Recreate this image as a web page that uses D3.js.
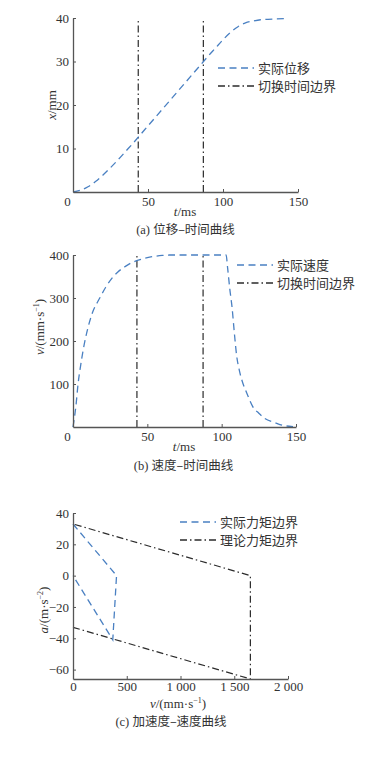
<!DOCTYPE html>
<html><head><meta charset="utf-8">
<script src="https://cdn.jsdelivr.net/npm/d3@7"></script>
<style>
html,body{margin:0;padding:0;background:#fff;}
svg text, svg tspan{font-family:"Liberation Serif","DejaVu Serif","Times New Roman",serif;fill:#333;}
svg .cjk{font-family:"Noto Sans CJK SC","Liberation Serif",serif;}
</style></head>
<body>
<svg id="c" width="380" height="770"></svg>
<script>
// ---------- data ----------
// (a) displacement vs time
const posT = [0,5,10,15,20,25,30,35,40,43.5,50,60,70,80,87,90,95,100,105,110,115,120,125,130,143];
const posX = [0,0.4,1.2,2.4,3.9,5.6,7.4,9.3,11.2,12.6,15.2,19.2,23.2,27.2,30,31.2,33.1,35.0,36.7,38.0,38.9,39.3,39.6,39.7,39.9];
const switchA = [43.5, 86.9];
// (b) velocity vs time
const velT = [0,2,3.4,5,7,10,13,18,22,26,30,35,40,45,50,55,60,65,103,104,105.5,107,108.5,110,112,113.5,117,121,125,129,136,141,148];
const velV = [0,50,100,140,182,230,265,300,325,345,360,373,383,389,394,397,399,400,400,370,320,278,220,168,130,110,78,47,32,20,10,4,1];
const switchB = [43, 87.5];
// (c) acceleration vs velocity
const actV = [0,405,370,0];
const actA = [33,0,-41,0];
const theoV = [0,1650,1650,0];
const theoA = [-33,-66,0,33];
// ticks
const tTicks = [0,50,100,150];
const xTicksA = [10,20,30,40];
const vTicksB = [100,200,300,400];
const vTicksC = [0,500,1000,1500,2000];
const aTicksC = [-60,-40,-20,0,20,40];

const blue = "#4a80c2", dark = "#2b2b2b", axisCol = "#555";
const dashBlue = "7,4.5", dashDot = "7,3,1.5,3";
const SERIF = "'Liberation Serif','DejaVu Serif',serif";

const svg = d3.select("#c");

function axes(g, x, y, xt, yt, xfmt, zeroShift, labY){
  const ax = g.append("g").attr("transform",`translate(0,${y.range()[0]})`)
    .call(d3.axisBottom(x).tickValues(xt).tickSizeInner(-3).tickSizeOuter(0).tickPadding(8).tickFormat(xfmt));
  const ay = g.append("g").attr("transform",`translate(${x.range()[0]},0)`)
    .call(d3.axisLeft(y).tickValues(yt).tickSizeInner(-3).tickSizeOuter(0).tickPadding(4).tickFormat(d=>d<0?"\u2212"+Math.abs(d):d));
  [ax,ay].forEach(a=>{
    a.attr("font-family",SERIF);
    a.select(".domain").attr("stroke",axisCol).attr("stroke-width",1.3);
    a.selectAll(".tick line").attr("stroke",axisCol).attr("stroke-width",1);
    a.selectAll(".tick text").attr("font-size",13).attr("fill","#333").attr("font-family",SERIF);
  });
  ax.selectAll(".tick text").attr("dy","0.71em").attr("y",labY);
  if(zeroShift) ax.selectAll(".tick").filter(d=>d===0).select("text").attr("dx",zeroShift);
  ax.selectAll(".tick").filter(d=>d===x.domain()[0]).select("line").remove();
  ay.selectAll(".tick").filter(d=>d===y.domain()[0]).select("line").remove();
}

function legend(g, x0, y0, items){
  items.forEach((it,i)=>{
    const yy = y0 + i*18;
    g.append("line").attr("x1",x0).attr("x2",x0+36).attr("y1",yy).attr("y2",yy)
      .attr("stroke",it.c).attr("stroke-width",1.3).attr("stroke-dasharray",it.d);
    g.append("text").attr("class","cjk").attr("x",x0+40).attr("y",yy).attr("dy","0.35em")
      .attr("font-size",13).text(it.t);
  });
}

function vline(g, x, y, v){
  g.append("line").attr("x1",x(v)).attr("x2",x(v)).attr("y1",y.range()[0]).attr("y2",y.range()[1])
    .attr("stroke",dark).attr("stroke-width",1.2).attr("stroke-dasharray",dashDot);
}

function unitLabel(g, tr, x0, y0, sym, pre, sup){
  const t = g.append("text").attr("text-anchor","middle").attr("font-size",13);
  if(tr) t.attr("transform",tr); else t.attr("x",x0).attr("y",y0);
  t.append("tspan").attr("font-style","italic").text(sym);
  t.append("tspan").text(pre);
  if(sup){
    t.append("tspan").attr("font-size",8).attr("dy",-5).text(sup);
    t.append("tspan").attr("dy",5).text(")");
  }
}

function caption(g, cx, cy, tag, txt){
  g.append("text").attr("x",cx).attr("y",cy).attr("text-anchor","middle").attr("font-size",12.5)
    .html(tag + ' <tspan class="cjk">' + txt + '</tspan>');
}

// ---------- (a) ----------
{
  const g = svg.append("g");
  const x = d3.scaleLinear().domain([0,150]).range([73,298]);
  const y = d3.scaleLinear().domain([0,40]).range([192,18]);
  switchA.forEach(v=>vline(g,x,y,v));
  g.append("path").datum(posT.map((t,i)=>[t,posX[i]]))
    .attr("d",d3.line().x(d=>x(d[0])).y(d=>y(d[1])).curve(d3.curveMonotoneX))
    .attr("fill","none").attr("stroke",blue).attr("stroke-width",1.3).attr("stroke-dasharray",dashBlue);
  axes(g,x,y,tTicks,xTicksA,d=>d,-6,5);
  legend(g,218,68,[{t:"实际位移",c:blue,d:dashBlue},{t:"切换时间边界",c:dark,d:dashDot}]);
  unitLabel(g,"translate(56,105) rotate(-90)",0,0,"x","/mm",null);
  unitLabel(g,null,185,216,"t","/ms",null);
  caption(g,185.5,234,"(a)","位移–时间曲线");
}

// ---------- (b) ----------
{
  const g = svg.append("g");
  const x = d3.scaleLinear().domain([0,150]).range([73,296]);
  const y = d3.scaleLinear().domain([0,400]).range([427,255]);
  switchB.forEach(v=>vline(g,x,y,v));
  g.append("path").datum(velT.map((t,i)=>[t,velV[i]]))
    .attr("d",d3.line().x(d=>x(d[0])).y(d=>y(d[1])).curve(d3.curveMonotoneX))
    .attr("fill","none").attr("stroke",blue).attr("stroke-width",1.3).attr("stroke-dasharray",dashBlue);
  axes(g,x,y,tTicks,vTicksB,d=>d,-6,5);
  legend(g,237,265,[{t:"实际速度",c:blue,d:dashBlue},{t:"切换时间边界",c:dark,d:dashDot}]);
  unitLabel(g,"translate(44,327) rotate(-90)",0,0,"v","/(mm·s","−1");
  unitLabel(g,null,184,451,"t","/ms",null);
  caption(g,183.5,470,"(b)","速度–时间曲线");
}

// ---------- (c) ----------
{
  const g = svg.append("g");
  const x = d3.scaleLinear().domain([0,2000]).range([73,288]);
  const y = d3.scaleLinear().domain([-66,40]).range([679,513]);
  const line = d3.line().x(d=>x(d[0])).y(d=>y(d[1]));
  g.append("path").datum(theoV.map((v,i)=>[v,theoA[i]])).attr("d",line)
    .attr("fill","none").attr("stroke",dark).attr("stroke-width",1.2).attr("stroke-dasharray",dashDot);
  g.append("path").datum(actV.map((v,i)=>[v,actA[i]])).attr("d",line)
    .attr("fill","none").attr("stroke",blue).attr("stroke-width",1.3).attr("stroke-dasharray",dashBlue);
  axes(g,x,y,vTicksC,aTicksC,d=>d>=1000?d3.format(",")(d).replace(","," "):d,0,3);
  legend(g,180,522,[{t:"实际力矩边界",c:blue,d:dashBlue},{t:"理论力矩边界",c:dark,d:dashDot}]);
  unitLabel(g,"translate(48,610) rotate(-90)",0,0,"a","/(m·s","−2");
  unitLabel(g,null,178,708,"v","/(mm·s","−1");
  caption(g,171,726,"(c)","加速度–速度曲线");
}
</script>
</body></html>
